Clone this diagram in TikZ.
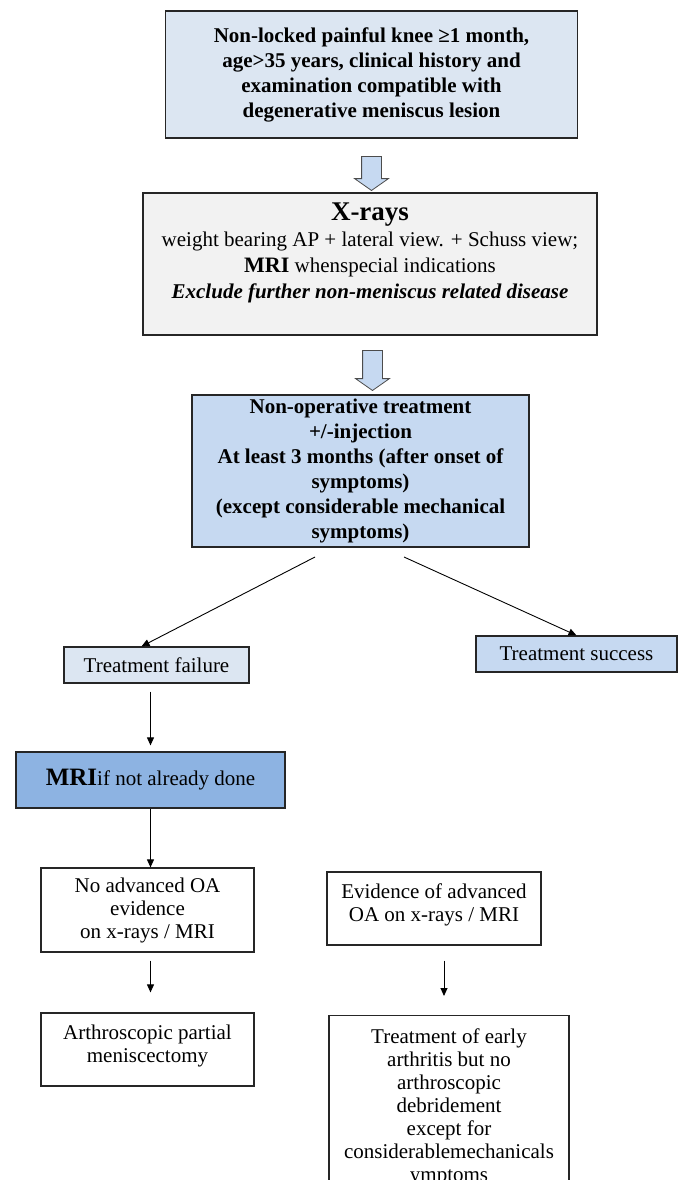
\documentclass[tikz,border=0pt]{standalone}
\usepackage{fontspec}
\setmainfont{Liberation Serif}
\usetikzlibrary{arrows.meta,calc,shapes.arrows}
\definecolor{paleblue}{HTML}{DCE6F2}
\definecolor{midblue}{HTML}{C6D9F1}
\definecolor{deepblue}{HTML}{8DB3E2}
\definecolor{palegray}{HTML}{F2F2F2}

\begin{document}
\begin{tikzpicture}[x=1pt,y=-1pt,
  box/.style={draw=black!85,line width=1.2pt,align=center,inner sep=0pt,font=\fontsize{21}{23}\selectfont},
  bold box/.style={box,font=\fontsize{21}{25}\selectfont\bfseries},
  block arrow/.style={single arrow,draw=black!70,fill=midblue,line width=0.8pt,shape border rotate=270,
    inner sep=9.5pt,minimum width=33pt,single arrow head extend=7pt,single arrow tip angle=110},
  thin arrow/.style={-{Triangle[length=8pt,width=7pt]},line width=0.9pt}]

\useasboundingbox (0,0) rectangle (678,1180);
\clip (0,0) rectangle (678,1180);

\node at (371.5,74.5) [bold box,fill=paleblue,minimum width=412pt,minimum height=127pt] (K) {Non-locked painful knee ≥1 month,\\ age>35 years, clinical history and\\ examination compatible with\\ degenerative meniscus lesion};
\node at (371.5,170) [block arrow,minimum height=34pt] (a1) {};

\node at (370,264) [box,fill=palegray,minimum width=454pt,minimum height=142pt,font=\fontsize{21}{26}\selectfont] (X) {{\fontsize{27}{28}\selectfont\bfseries X-rays}\\ weight bearing AP + lateral view. + Schuss view;\\ {\fontsize{22}{26}\selectfont\bfseries MRI} whenspecial indications\\ \textbf{\textit{Exclude further non-meniscus related disease}}\\ \mbox{}};
\node at (372.5,367) [block arrow,minimum height=40pt] (a2) {};

\node at (360.5,471) [bold box,fill=midblue,minimum width=337pt,minimum height=152pt] (N) {Non-operative treatment\\ +/-injection\\ At least 3 months (after onset of\\ symptoms)\\ (except considerable mechanical\\ symptoms)};
\coordinate (n1) at (315,557);
\coordinate (n2) at (404,557);

\node at (156.5,665) [box,fill=paleblue,minimum width=185pt,minimum height=36pt] (F) {Treatment failure};
\node at (576.5,654) [box,fill=midblue,minimum width=201pt,minimum height=36pt] (S) {Treatment success};

\node at (150.5,780) [box,fill=deepblue,minimum width=269pt,minimum height=56pt] (M) {{\fontsize{25}{26}\selectfont\bfseries MRI}if not already done};

\node at (147.5,910) [box,minimum width=213pt,minimum height=84pt] (O) {No advanced OA\\ evidence\\ on x-rays / MRI};
\node at (434,908.5) [box,minimum width=214pt,minimum height=73pt] (E) {Evidence of advanced\\ OA on x-rays / MRI\\[-12pt]\mbox{}};

\node at (147.5,1049.5) [box,minimum width=213pt,minimum height=73pt] (A) {Arthroscopic partial\\ meniscectomy\\[-12pt]\mbox{}};
\node at (449,1015) [box,anchor=north,minimum width=240pt,inner ysep=13pt] (T) {Treatment of early\\ arthritis but no\\ arthroscopic\\ debridement\\ except for\\ considerablemechanicals\\ ymptoms};

\draw[thin arrow] (n1) -- ($(F.north)+(-15,0)$);
\draw[thin arrow] (n2) -- (S.north);
\draw[thin arrow] ($(F.south -| M.north)+(0,8)$) -- ($(M.north)+(0,-6)$);
\draw[thin arrow] (M.south) -- (M.south |- O.north);
\draw[thin arrow] ($(O.south -| M.south)+(0,8)$) -- ($(A.north -| M.south)+(0,-20)$);
\draw[thin arrow] ($(E.south)+(10,15)$) -- ($(T.north)+(-5,-19)$);

\end{tikzpicture}
\end{document}
